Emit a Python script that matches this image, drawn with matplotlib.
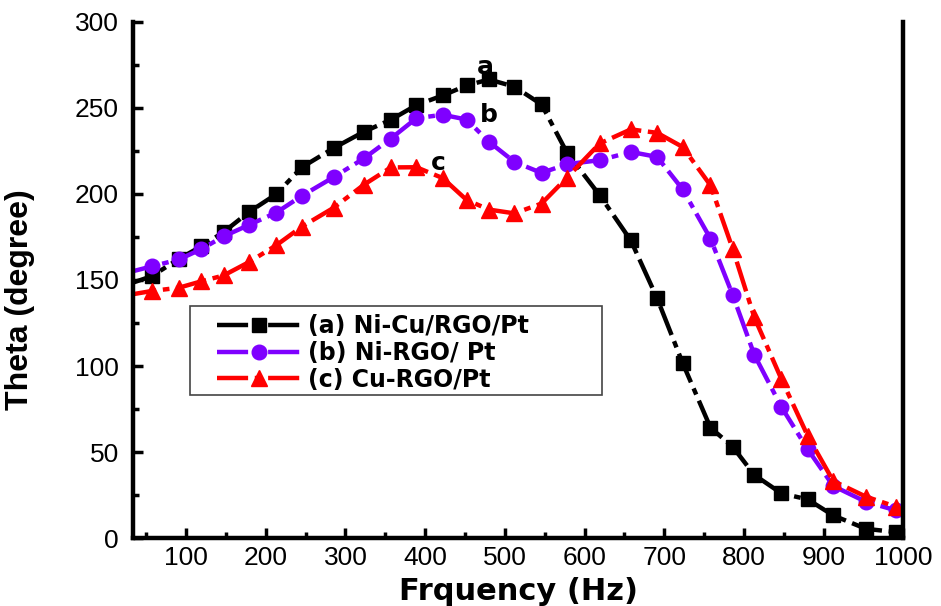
import matplotlib.pyplot as plt
from matplotlib.ticker import MultipleLocator
from matplotlib.patches import Rectangle

# frecuencias (Hz)
freq = [24, 57, 91, 119, 147, 179, 213, 245, 285, 323, 357, 389, 422, 452, 480,
        512, 546, 578, 619, 658, 691, 723, 758, 786, 813, 847, 880, 912, 953, 991]

theta_a = [147, 152.2, 162.3, 169.5, 177.8, 189.5, 199.8, 215.4, 226.6, 236.1, 243.1,
           251.6, 257.2, 263.0, 266.5, 262.3, 252.0, 223.9, 199.2, 173.0, 139.4,
           101.8, 64.2, 53.0, 36.7, 26.0, 22.5, 13.2, 5.4, 3.5]
theta_b = [154, 157.9, 161.9, 167.9, 175.3, 182.0, 189.1, 198.8, 209.7, 220.6, 232.2,
           244.0, 246.0, 243.2, 230.3, 218.6, 212.2, 217.3, 219.6, 224.4, 221.5,
           202.7, 174.0, 141.1, 106.5, 76.2, 51.6, 30.3, 21.1, 16.1]
theta_c = [141, 143.6, 145.5, 149.2, 152.6, 160.4, 170.1, 180.9, 191.9, 205.3, 215.4,
           215.5, 209.2, 196.5, 190.9, 188.7, 194.4, 209.5, 229.3, 237.5, 235.5,
           227.3, 205.0, 167.9, 128.3, 92.4, 59.4, 33.2, 24.1, 18.2]

etiquetas = ['(a) Ni-Cu/RGO/Pt', '(b) Ni-RGO/ Pt', '(c) Cu-RGO/Pt']
plt.rcParams['font.family'] = ['Liberation Sans', 'DejaVu Sans']

fig = plt.figure(figsize=(9.41, 6.06), dpi=100)
ax = fig.add_axes([0.141, 0.112, 0.819, 0.852])

estilo = (0, (7, 1.5, 1.5, 1.5))
ax.plot(freq, theta_a, color='black', marker='s', ms=9.5, lw=3.2, ls=estilo,
        label=etiquetas[0])
ax.plot(freq, theta_b, color='#7f00ff', marker='o', ms=10.5, lw=3.2, ls=estilo,
        label=etiquetas[1])
ax.plot(freq, theta_c, color='#ff0000', marker='^', ms=11.5, lw=3.2, ls=estilo,
        label=etiquetas[2])

ax.set_xlim(33, 1000)
ax.set_ylim(0, 300)
ax.xaxis.set_major_locator(MultipleLocator(100))
ax.xaxis.set_minor_locator(MultipleLocator(50))
ax.yaxis.set_major_locator(MultipleLocator(50))
ax.yaxis.set_minor_locator(MultipleLocator(25))
ax.tick_params(which='both', direction='in', width=2.5, top=False, right=False)
ax.tick_params(which='major', length=7, labelsize=19)
ax.tick_params(which='minor', length=4)
ax.tick_params(axis='y', pad=10)
ax.tick_params(axis='x', pad=6)
ax.set_xticks(range(100, 1001, 100))

for s in ['left', 'bottom', 'right']:
    ax.spines[s].set_linewidth(3.2)
ax.spines['top'].set_visible(False)

ax.set_xlabel('Frquency (Hz)', fontsize=22, fontweight='bold', labelpad=5,
              family=['DejaVu Sans'])
ax.set_ylabel('Theta (degree)', fontsize=23, fontweight='bold')
ax.yaxis.set_label_coords(-0.127, 0.461)

for letra, x, y in [('a', 476, 274), ('b', 480, 246), ('c', 416, 218)]:
    ax.text(x, y, letra, fontsize=18, fontweight='bold', ha='center', va='center',
            family=['DejaVu Sans'])

# recuadro de la leyenda
ax.add_patch(Rectangle((0.0744, 0.277), 0.535, 0.1726, transform=ax.transAxes,
                       facecolor='white', edgecolor='#444444', lw=1.2, zorder=4))
ax.legend(loc='upper left', bbox_to_anchor=(0.1094, 0.434), handlelength=3.52,
          prop={'weight': 'bold', 'size': 17, 'family': 'DejaVu Sans'},
          frameon=False, borderpad=0, labelspacing=0.12, handletextpad=0.34,
          borderaxespad=0)

fig.savefig('out.png', dpi=100)
